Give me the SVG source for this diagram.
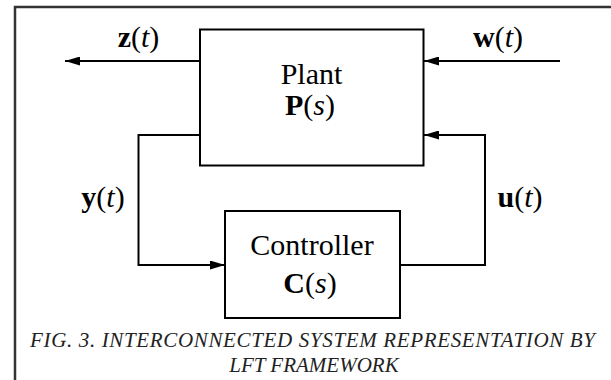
<svg xmlns="http://www.w3.org/2000/svg" width="611" height="380" viewBox="0 0 611 380">
  <style>
    .box { fill: #ffffff; stroke: #000000; stroke-width: 2; }
    .wire { fill: none; stroke: #000000; stroke-width: 2; }
    text { font-family: 'Liberation Serif', 'Times New Roman', Tinos, 'DejaVu Serif', serif; }
    .lbl { font-size: 30px; fill: #000000; text-anchor: middle; }
    .b { font-weight: bold; }
    .i { font-style: italic; }
    .cap { font-size: 21px; font-style: italic; fill: #222222; }
  </style>
  <defs>
    <marker id="arr" markerUnits="userSpaceOnUse" markerWidth="15" markerHeight="9" refX="15" refY="4.5" orient="auto">
      <path d="M0,0 L15,4.5 L0,9 Z" fill="#000000"/>
    </marker>
  </defs>
  <rect width="611" height="380" fill="#ffffff"/>
  <path d="M15,380 V7 H611" fill="none" stroke="#333333" stroke-width="2.5"/>

  <g id="connectors">
    <path class="wire" d="M200,61 H65" marker-end="url(#arr)"/>
    <path class="wire" d="M560,61 H424" marker-end="url(#arr)"/>
    <path class="wire" d="M200,135 H138.5 V265 H225" marker-end="url(#arr)"/>
    <path class="wire" d="M400,265 H485 V135 H424" marker-end="url(#arr)"/>
    <text class="lbl" x="138.5" y="47" font-family="Liberation Serif, serif"><tspan class="b">z</tspan>(<tspan class="i">t</tspan>)</text>
    <text class="lbl" x="498" y="47" font-family="Liberation Serif, serif"><tspan class="b">w</tspan>(<tspan class="i">t</tspan>)</text>
    <text class="lbl" x="103" y="207" font-family="Liberation Serif, serif"><tspan class="b">y</tspan>(<tspan class="i">t</tspan>)</text>
    <text class="lbl" x="520" y="207" font-family="Liberation Serif, serif"><tspan class="b">u</tspan>(<tspan class="i">t</tspan>)</text>
  </g>

  <g id="plant">
    <rect class="box" x="200" y="29.5" width="223.5" height="136"/>
    <text class="lbl" x="311.5" y="84" font-family="Liberation Serif, serif">Plant</text>
    <text class="lbl" x="310" y="115" font-family="Liberation Serif, serif"><tspan class="b">P</tspan>(<tspan class="i">s</tspan>)</text>
  </g>

  <g id="controller">
    <rect class="box" x="225" y="211" width="175" height="107"/>
    <text class="lbl" x="312" y="255" font-family="Liberation Serif, serif">Controller</text>
    <text class="lbl" x="310" y="293" font-family="Liberation Serif, serif"><tspan class="b">C</tspan>(<tspan class="i">s</tspan>)</text>
  </g>

  <g id="caption">
    <text class="cap" x="30" y="346.5" textLength="565" lengthAdjust="spacing" font-family="Liberation Serif, serif">FIG. 3. INTERCONNECTED SYSTEM REPRESENTATION BY</text>
    <text class="cap" x="314" y="371.5" text-anchor="middle" font-family="Liberation Serif, serif">LFT FRAMEWORK</text>
  </g>
</svg>
